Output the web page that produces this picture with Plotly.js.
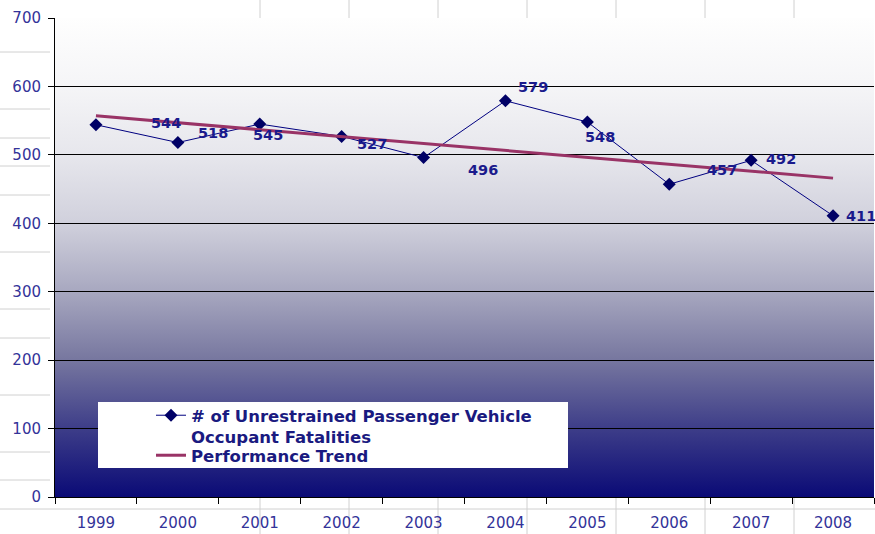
<!DOCTYPE html>
<html>
<head>
<meta charset="utf-8">
<script src="https://cdn.plot.ly/plotly-3.0.1.min.js"></script>
<style>
  html, body { margin: 0; padding: 0; background: #ffffff; }
  #wrap { position: relative; width: 875px; height: 534px; }
  #grad { position: absolute; left: 55px; top: 18px; width: 819px; height: 479px;
          background: linear-gradient(to bottom, #fefefe 0%, #f5f5f7 14%, #e6e6ec 29%, #d0d0dc 43%, #a8a8c0 57%, #7878a0 71%, #3c3c88 86%, #0a0a76 100%); }
  #chart { position: absolute; left: 0; top: 0; width: 875px; height: 534px; }
</style>
</head>
<body>
<div id="wrap">
  <div id="grad"></div>
  <div id="chart"></div>
</div>
<script>
// ---- data ----
const years = ['1999','2000','2001','2002','2003','2004','2005','2006','2007','2008'];
const fatalities = [544, 518, 545, 527, 496, 579, 548, 457, 492, 411];
const trend = [557, 547, 537, 527, 517, 506, 496, 486, 476, 466];
const seriesName1 = '# of Unrestrained Passenger Vehicle<br>Occupant Fatalities';
const seriesName2 = 'Performance Trend';
const yTicks = [0, 100, 200, 300, 400, 500, 600, 700];

// label offsets (pixels) relative to each point
const labelDX = [70, 35, 8, 30, 59, 28, 13, 53, 30, 28];
const labelDY = [2, 10, -11, -8, -12, 14, -15, 14, 1, 0];

// ---- geometry helpers for decoration ----
const L = 55, T = 18, W = 819, H = 479;
const px = v => (v - L) / W;
const py = v => (T + H - v) / H;
const grey = {color: '#d0d0d0', width: 1};
const shapes = [];
[260, 349, 438, 527, 616, 705, 794].forEach(x => {
  shapes.push({type: 'line', xref: 'paper', yref: 'paper', x0: px(x), x1: px(x), y0: py(0), y1: py(18), line: grey, layer: 'below'});
  shapes.push({type: 'line', xref: 'paper', yref: 'paper', x0: px(x), x1: px(x), y0: py(497), y1: py(534), line: grey, layer: 'below'});
});
shapes.push({type: 'line', xref: 'paper', yref: 'paper', x0: px(0), x1: px(875), y0: py(509), y1: py(509), line: grey, layer: 'below'});
[52, 109, 138, 166, 195, 252, 309, 338, 395, 452, 480].forEach(y => {
  shapes.push({type: 'line', xref: 'paper', yref: 'paper', x0: px(0), x1: px(50), y0: py(y), y1: py(y), line: grey, layer: 'below'});
});
// legend white box
shapes.push({type: 'rect', xref: 'paper', yref: 'paper', x0: px(98), x1: px(568), y0: py(468), y1: py(402),
  fillcolor: '#ffffff', line: {width: 0}, layer: 'above'});

const annotations = years.map((yr, i) => ({
  x: i, y: fatalities[i], xref: 'x', yref: 'y', text: String(fatalities[i]),
  showarrow: false, xanchor: 'center', yanchor: 'middle',
  xshift: labelDX[i], yshift: labelDY[i],
  font: {family: 'DejaVu Sans', size: 14.5, color: '#1a1a8c', weight: 'bold'}
}));

const legendFont = {family: 'DejaVu Sans', size: 16.5, color: '#1a1a80', weight: 'bold'};

const traces = [
  {type: 'scatter', mode: 'lines+markers', name: seriesName1, x: years, y: fatalities,
   line: {color: '#000080', width: 1}, marker: {symbol: 'diamond', size: 10, color: '#000066'},
   legend: 'legend'},
  {type: 'scatter', mode: 'lines', name: seriesName2, x: years, y: trend,
   line: {color: '#993366', width: 3}, legend: 'legend2'}
];

const tickFont = {family: 'DejaVu Sans', size: 15, color: '#333399'};

const layout = {
  width: 875, height: 534,
  margin: {l: L, r: 875 - L - W, t: T, b: 534 - T - H, pad: 0},
  paper_bgcolor: 'rgba(0,0,0,0)', plot_bgcolor: 'rgba(0,0,0,0)',
  showlegend: true,
  legend: {x: px(151), y: py(398), xanchor: 'left', yanchor: 'top', xref: 'paper', yref: 'paper',
           bgcolor: 'rgba(0,0,0,0)', borderwidth: 0, valign: 'top', itemwidth: 30, font: legendFont},
  legend2: {x: px(151), y: py(438), xanchor: 'left', yanchor: 'top', xref: 'paper', yref: 'paper',
           bgcolor: 'rgba(0,0,0,0)', borderwidth: 0, valign: 'top', itemwidth: 30, font: legendFont},
  xaxis: {type: 'category', categoryorder: 'array', categoryarray: years, range: [-0.5, 9.5],
          tickson: 'boundaries', ticks: 'outside', ticklen: 6, tickcolor: '#000000', tickwidth: 1,
          showline: true, linecolor: '#000000', linewidth: 1, showgrid: false, zeroline: false,
          tickfont: tickFont, ticklabelstandoff: 12, fixedrange: true},
  yaxis: {range: [0, 700], tickvals: yTicks, ticks: 'outside', ticklen: 6, tickcolor: '#000000',
          showline: true, linecolor: '#000000', linewidth: 1, showgrid: true, gridcolor: '#000000',
          gridwidth: 1, zeroline: false, tickfont: tickFont, ticklabelstandoff: 4, fixedrange: true},
  shapes: shapes,
  annotations: annotations
};

Plotly.newPlot('chart', traces, layout, {displayModeBar: false, staticPlot: true});
</script>
</body>
</html>
